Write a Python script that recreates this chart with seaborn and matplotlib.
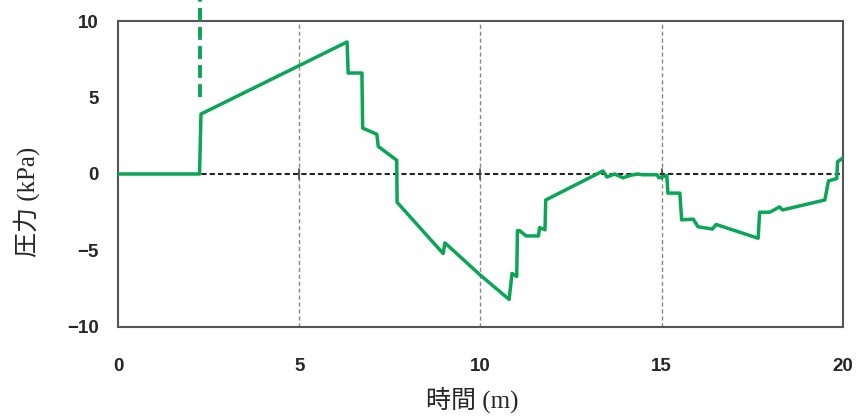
"""
Pressure over time: single green trace with a dashed marker line.
"""

import pandas as pd
import matplotlib
matplotlib.use("Agg")
import matplotlib.pyplot as plt
import seaborn as sns

# ---------------------------------------------------------------------------
# Data
# ---------------------------------------------------------------------------

time_m = [0.0, 2.25, 2.29, 6.32, 6.35, 6.73, 6.75, 7.14, 7.18, 7.69, 7.70,
          8.97, 9.02, 9.99, 10.79, 10.87, 11.00, 11.02, 11.08, 11.26, 11.60,
          11.63, 11.78, 11.80, 13.38, 13.49, 13.70, 13.93, 14.12, 14.33,
          14.47, 14.87, 14.92, 15.14, 15.17, 15.50, 15.55, 15.87, 16.00,
          16.40, 16.50, 17.66, 17.70, 17.98, 18.25, 18.33, 19.50, 19.60,
          19.83, 19.85, 20.00]
pressure_kpa = [0.0, 0.0, 3.92, 8.63, 6.60, 6.60, 3.00, 2.60, 1.80, 0.90, -1.85,
                -5.20, -4.50, -6.60, -8.20, -6.50, -6.70, -3.70, -3.70, -4.05,
                -4.05, -3.50, -3.65, -1.70, 0.20, -0.20, 0.00, -0.25, -0.10,
                0.00, -0.05, -0.05, -0.25, -0.10, -1.25, -1.25, -3.00, -2.95,
                -3.45, -3.60, -3.30, -4.20, -2.50, -2.50, -2.15, -2.35, -1.70,
                -0.45, -0.30, 0.80, 1.05]

marker_time = 2.25
marker_range = (5.0, 11.5)

x_ticks = [0, 5, 10, 15, 20]
y_ticks = [-10, -5, 0, 5, 10]

LINE_COLOR = "#0aa656"

# ---------------------------------------------------------------------------
# Plot
# ---------------------------------------------------------------------------

sns.set_style("white")
plt.rcParams["font.family"] = ["Liberation Sans", "Noto Sans CJK JP"]

df = pd.DataFrame({"time": time_m, "pressure": pressure_kpa})

fig = plt.figure(figsize=(8.63, 4.16), dpi=100)
ax = fig.add_axes([0.1367, 0.214, 0.8401, 0.7355])

# vertical grid + dashed zero line
for xv in x_ticks[1:-1]:
    ax.axvline(xv, color="#888888", lw=1.0, ls=(0, (3, 2)), zorder=1)
ax.axhline(0, color="#222222", lw=1.5, ls=(0, (2.5, 1.5)), zorder=1)
for xv in x_ticks[1:-1]:
    ax.plot([xv, xv], [-0.35, 0.35], color="#444444", lw=1.2, zorder=1)

sns.lineplot(data=df, x="time", y="pressure", ax=ax, color=LINE_COLOR,
             lw=2.5, estimator=None, sort=False, zorder=3)

ax.plot([marker_time, marker_time], list(marker_range), color=LINE_COLOR,
        lw=2.8, ls=(0, (3.3, 1.6)), clip_on=False, zorder=3)

ax.set_xlim(0, 20)
ax.set_ylim(-10, 10)
ax.set_xticks(x_ticks)
ax.set_yticks(y_ticks)

for side in ["left", "right", "top", "bottom"]:
    ax.spines[side].set_color("#555555")
    ax.spines[side].set_linewidth(1.5)

ax.tick_params(axis="x", length=0, pad=22, labelsize=13.5)
ax.tick_params(axis="y", direction="in", length=6, width=1.2,
               color="#555555", pad=14, labelsize=13.5)
for lab in ax.get_xticklabels() + ax.get_yticklabels():
    lab.set_fontweight("bold")

label_font = ["Liberation Serif", "Noto Sans CJK JP"]
ax.set_xlabel("時間 (m)", family=label_font, fontsize=18)
ax.set_ylabel("圧力 (kPa)", family=label_font, fontsize=18)
ax.xaxis.set_label_coords(0.488, -0.195)
ax.yaxis.set_label_coords(-0.108, 0.41)

fig.savefig("out.png", dpi=100)
